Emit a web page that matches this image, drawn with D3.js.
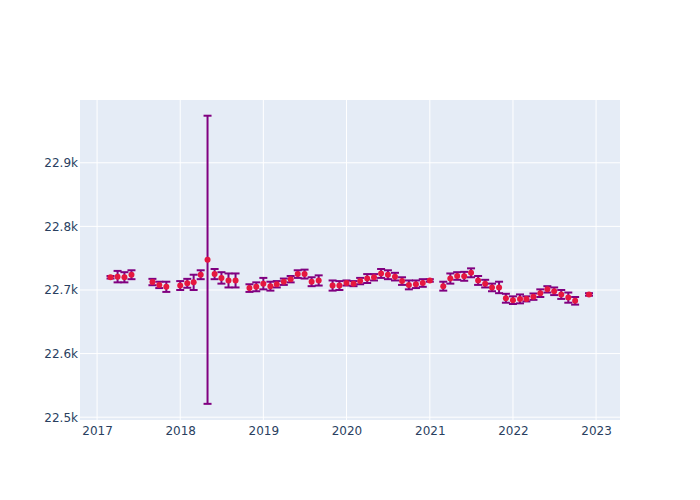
<!DOCTYPE html>
<html>
<head>
<meta charset="utf-8">
<script src="https://cdn.jsdelivr.net/npm/d3@7"></script>
<style>
  body { margin: 0; background: #fff; }
  .tick text { fill: #2a3f5f; font-size: 12px; font-family: "DejaVu Sans", sans-serif; }
</style>
</head>
<body>
<svg width="700" height="500"></svg>
<script>
/*****************************************
*   Data (monthly readings, value +/- error)
*****************************************/

var months = [
  '2017-03', '2017-04', '2017-05', '2017-06',
  '2017-09', '2017-10', '2017-11',
  '2018-01', '2018-02', '2018-03', '2018-04', '2018-05', '2018-06', '2018-07', '2018-08', '2018-09',
  '2018-11', '2018-12',
  '2019-01', '2019-02', '2019-03', '2019-04', '2019-05', '2019-06', '2019-07', '2019-08', '2019-09',
  '2019-11', '2019-12',
  '2020-01', '2020-02', '2020-03', '2020-04', '2020-05', '2020-06', '2020-07', '2020-08', '2020-09',
  '2020-10', '2020-11', '2020-12',
  '2021-01',
  '2021-03', '2021-04', '2021-05', '2021-06', '2021-07', '2021-08', '2021-09', '2021-10', '2021-11',
  '2021-12',
  '2022-01', '2022-02', '2022-03', '2022-04', '2022-05', '2022-06', '2022-07', '2022-08', '2022-09',
  '2022-10',
  '2022-12'
];

var values = [
  22720, 22721, 22720, 22724,
  22712.5, 22708, 22705,
  22707, 22710.5, 22712, 22724, 22747.5, 22725, 22719, 22715, 22715,
  22703, 22705,
  22710, 22706, 22709, 22713, 22717, 22725, 22725, 22713, 22715,
  22707, 22707,
  22711, 22710, 22714, 22718, 22720, 22726, 22724, 22721, 22714,
  22708, 22709, 22711,
  22715,
  22706, 22718, 22722, 22721.5, 22727, 22715, 22710, 22704, 22704,
  22687,
  22684, 22686, 22686, 22689.5, 22695, 22701, 22698, 22693, 22688,
  22683,
  22693
];

var errors = [
  2, 9, 8, 7,
  5, 5, 8,
  7, 7, 12, 7, 226.5, 8, 9, 11, 11,
  6, 7,
  9, 7, 5, 5, 5, 6, 7, 7, 8,
  8, 7,
  4, 4, 5, 7, 5, 7, 7, 6, 6,
  7, 6, 6,
  2,
  7, 8, 6, 7, 7, 7, 6, 6, 9,
  7,
  6, 7, 4, 5, 6, 5, 6, 7, 8,
  6,
  2
];

var yTicks = [22500, 22600, 22700, 22800, 22900];
var xTickYears = [2017, 2018, 2019, 2020, 2021, 2022, 2023];

/*****************************************
*   Layout
*****************************************/

const SVG_WIDTH = 700;
const SVG_HEIGHT = 500;
const LEFT = 80, RIGHT = 620, TOP = 100, BOTTOM = 420;

const BG = '#E5ECF6';
const MARKER_COLOR = '#E5173F';
const ERROR_COLOR = '#800080';

var parseMonth = d3.timeParse('%Y-%m');

var dataset = months.map(function(m, i) {
  return {date: parseMonth(m), value: values[i], err: errors[i]};
});

var svg = d3.select('svg');

var xScale = d3.scaleTime()
  .domain([new Date(2016, 9, 18), new Date(2023, 3, 16)])
  .range([LEFT, RIGHT]);

var yScale = d3.scaleLinear()
  .domain([22495.6, 22998.7])
  .range([BOTTOM, TOP]);

// plot background
svg.append('rect')
  .attr('x', LEFT)
  .attr('y', TOP)
  .attr('width', RIGHT - LEFT)
  .attr('height', BOTTOM - TOP)
  .attr('fill', BG);

/*****************************************
*   Axes and grid
*****************************************/

var xTickDates = xTickYears.map(y => new Date(y, 0, 1));

var xAxis = d3.axisBottom(xScale)
  .tickValues(xTickDates)
  .tickFormat(d3.timeFormat('%Y'))
  .tickSize(0)
  .tickPadding(6);

var yAxis = d3.axisLeft(yScale)
  .tickValues(yTicks)
  .tickFormat(d => (d / 1000).toFixed(1) + 'k')
  .tickSize(0)
  .tickPadding(2);

// gridlines
svg.append('g')
  .selectAll('line')
  .data(xTickDates)
  .enter()
    .append('line')
    .attr('x1', d => xScale(d))
    .attr('x2', d => xScale(d))
    .attr('y1', TOP)
    .attr('y2', BOTTOM)
    .attr('stroke', '#fff')
    .attr('stroke-width', 1);

svg.append('g')
  .selectAll('line')
  .data(yTicks)
  .enter()
    .append('line')
    .attr('x1', LEFT)
    .attr('x2', RIGHT)
    .attr('y1', d => yScale(d))
    .attr('y2', d => yScale(d))
    .attr('stroke', '#fff')
    .attr('stroke-width', 1);

svg.append('g')
  .attr('transform', 'translate(0,' + BOTTOM + ')')
  .call(xAxis)
  .call(g => g.select('.domain').remove());

svg.append('g')
  .attr('transform', 'translate(' + LEFT + ',0)')
  .call(yAxis)
  .call(g => g.select('.domain').remove());

/*****************************************
*   Error bars and markers
*****************************************/

var CAP = 4;

var bars = svg.append('g')
  .selectAll('g')
  .data(dataset)
  .enter()
    .append('g')
    .attr('stroke', ERROR_COLOR)
    .attr('stroke-width', 2);

bars.append('line')
  .attr('x1', d => xScale(d.date))
  .attr('x2', d => xScale(d.date))
  .attr('y1', d => yScale(d.value - d.err))
  .attr('y2', d => yScale(d.value + d.err));

bars.append('line')
  .attr('x1', d => xScale(d.date) - CAP)
  .attr('x2', d => xScale(d.date) + CAP)
  .attr('y1', d => yScale(d.value + d.err))
  .attr('y2', d => yScale(d.value + d.err));

bars.append('line')
  .attr('x1', d => xScale(d.date) - CAP)
  .attr('x2', d => xScale(d.date) + CAP)
  .attr('y1', d => yScale(d.value - d.err))
  .attr('y2', d => yScale(d.value - d.err));

svg.append('g')
  .selectAll('circle')
  .data(dataset)
  .enter()
    .append('circle')
    .attr('cx', d => xScale(d.date))
    .attr('cy', d => yScale(d.value))
    .attr('r', 3)
    .attr('fill', MARKER_COLOR);
</script>
</body>
</html>
